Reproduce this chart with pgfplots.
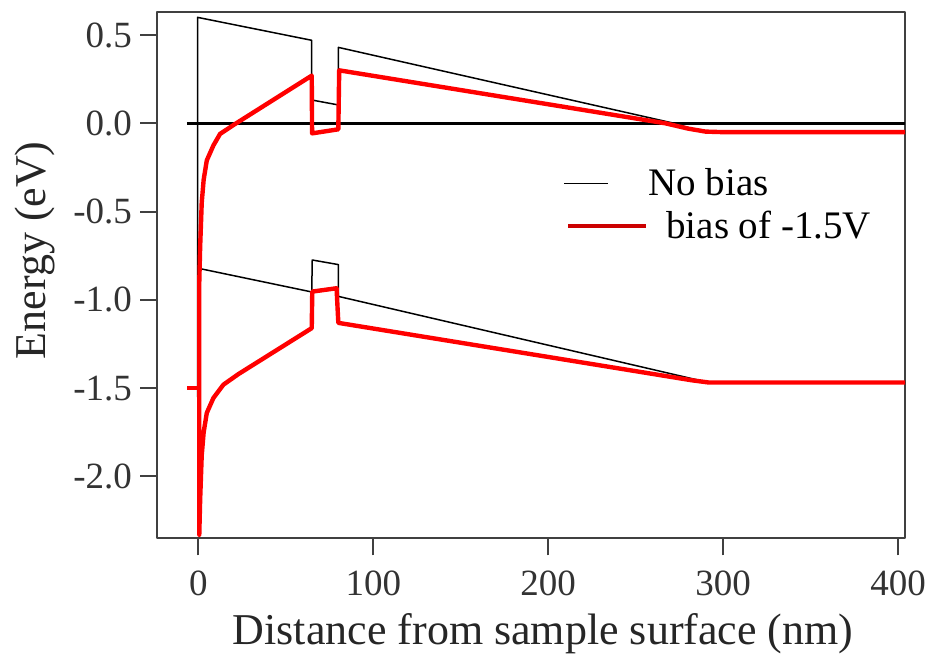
\documentclass[border=0pt]{standalone}
\usepackage{pgfplots}
\pgfplotsset{compat=1.18}
\usepackage{fontspec}
\setmainfont{Liberation Serif}

\begin{document}
\begin{tikzpicture}
\begin{axis}[
    scale only axis,
    width=373.85pt, height=263.3pt,
    xmin=-23.5, xmax=404,
    ymin=-2.35, ymax=0.632,
    xtick={0,100,200,300,400},
    xticklabels={0,100,200,300,400},
    ytick={-2,-1.5,-1,-0.5,0,0.5},
    yticklabels={-2.0,-1.5,-1.0,-0.5,0.0,0.5},
    tick pos=left,
    tick align=outside,
    major tick length=8.5pt,
    axis line style={line width=1pt, black!75},
    every tick/.style={line width=1pt, black!75},
    ticklabel style={font=\fontsize{18.5}{22}\selectfont, text=black!80, inner sep=4pt},
    xticklabel style={yshift=-3.5pt},
    xlabel={Distance from sample surface (nm)},
    ylabel={Energy (eV)},
    label style={font=\fontsize{22}{26}\selectfont, text=black!85},
    xlabel style={at={(axis description cs:0.516,-0.182)}, anchor=center},
    ylabel style={at={(axis description cs:-0.163,0.547)}, anchor=center},
    legend cell align={left},
    legend style={draw=none, fill=none, inner sep=0pt,
        at={(rel axis cs:0.5426,0.703)}, anchor=north west,
        font=\fontsize{19.5}{22}\selectfont, row sep=6pt, column sep=0pt,
        nodes={inner xsep=0pt, inner ysep=0pt}},
    line join=round,
]
% Fermi level, no bias
\addplot[forget plot, black, line width=1.4pt] coordinates {(-6.6,0) (404,0)};

% no bias: conduction band
\addplot[black, line width=0.75pt,
    legend image code/.code={\draw[black, line width=0.75pt] (0pt,0pt) -- (22pt,0pt);}]
table {
x y
-0.5 -1.55
-0.5 0.60
64.8 0.47
64.8 0.132
80 0.104
80 0.43
272 0.0
282 -0.03
292 -0.05
404 -0.05
};
\addlegendentry{No bias}

% no bias: valence band
\addplot[forget plot, black, line width=0.75pt] table {
x y
-0.5 -0.82
64.8 -0.955
65.1 -0.774
80 -0.80
80 -0.98
284 -1.45
292 -1.468
404 -1.468
};

% bias of -1.5 V: tip Fermi level
\addplot[forget plot, red, line width=2.2pt] coordinates {(-6.5,-1.5) (0,-1.5)};

% bias of -1.5 V: conduction band, down the surface, then valence band
\addplot[red, line width=2.2pt,
    legend image code/.code={\draw[red!80!black, line width=2.2pt] (2pt,0pt) -- (41pt,0pt);}]
table {
x y
404 -0.05
300 -0.05
290 -0.047
280 -0.03
267 0.0
80.5 0.30
80 -0.034
65 -0.057
64.8 0.27
20 -0.01
12.4 -0.06
8.6 -0.125
4.8 -0.21
3 -0.32
1.9 -0.45
1 -0.70
0.5 -0.90
0.5 -2.33
1 -2.13
1.9 -1.88
3 -1.75
4.8 -1.64
8.6 -1.555
14.3 -1.48
22.9 -1.42
64.8 -1.16
65.1 -0.953
79 -0.934
80 -1.13
282 -1.455
292 -1.468
404 -1.468
};
\addlegendentry{\hspace{9pt}bias of -1.5V}
\end{axis}
\path (-78.65pt,-57.35pt) rectangle (391.85pt,269.15pt);
\end{tikzpicture}
\end{document}
